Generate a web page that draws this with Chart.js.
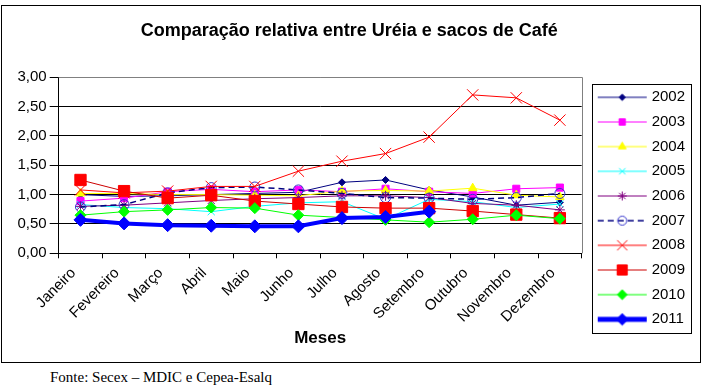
<!DOCTYPE html>
<html><head><meta charset="utf-8">
<script src="https://cdn.jsdelivr.net/npm/chart.js@4/dist/chart.umd.min.js"></script>
<style>
html,body{margin:0;padding:0;background:#fff;width:702px;height:386px;overflow:hidden;}
#wrap{position:relative;width:702px;height:386px;}
#c{position:absolute;left:0;top:0;}
#fonte{position:absolute;left:50px;top:369px;font:15px "Liberation Serif","Times New Roman",serif;line-height:17px;color:#000;white-space:nowrap;}
</style></head><body>
<div id="wrap"><canvas id="c" width="702" height="366"></canvas><div id="fonte">Fonte: Secex – MDIC e Cepea-Esalq</div></div>
<script>
const months = ['Janeiro','Fevereiro','Março','Abril','Maio','Junho','Julho','Agosto','Setembro','Outubro','Novembro','Dezembro'];
const yTickValues = [0, 0.5, 1, 1.5, 2, 2.5, 3];
const yTickLabels = ['0,00','0,50','1,00','1,50','2,00','2,50','3,00'];
const seriesNames = ['2002','2003','2004','2005','2006','2007','2008','2009','2010','2011'];
const s2002 = [1.00, 0.97, 0.98, 1.00, 1.02, 1.04, 1.21, 1.25, 1.08, 0.96, 0.82, 0.87];
const s2003 = [0.89, 0.94, 1.05, 1.09, 1.05, 1.08, 1.05, 1.10, 1.05, 1.02, 1.10, 1.12];
const s2004 = [1.02, 1.02, 1.00, 1.00, 0.99, 0.98, 1.06, 1.07, 1.06, 1.11, 0.99, 0.96];
const s2005 = [0.83, 0.78, 0.76, 0.71, 0.80, 0.86, 0.88, 0.58, 0.92, 0.88, 0.78, 0.84];
const s2006 = [0.80, 0.82, 0.86, 0.90, 0.93, 0.95, 0.98, 0.98, 0.95, 0.85, 0.82, 0.74];
const s2007 = [0.79, 0.83, 1.03, 1.12, 1.13, 1.08, 1.02, 0.95, 0.94, 0.92, 0.95, 1.02];
const s2008 = [1.08, 1.03, 1.06, 1.14, 1.14, 1.40, 1.57, 1.70, 1.98, 2.70, 2.65, 2.27];
const s2009 = [1.25, 1.06, 0.94, 0.99, 0.89, 0.84, 0.79, 0.77, 0.77, 0.72, 0.66, 0.60];
const s2010 = [0.65, 0.71, 0.74, 0.78, 0.77, 0.65, 0.61, 0.57, 0.53, 0.58, 0.65, 0.59];
const s2011 = [0.57, 0.51, 0.48, 0.47, 0.46, 0.46, 0.60, 0.62, 0.71, null, null, null];
const seriesValues = [s2002, s2003, s2004, s2005, s2006, s2007, s2008, s2009, s2010, s2011];

const FONT = '"Liberation Sans", Arial, sans-serif';
const styles = [
  {line:'#000080', point:'#000080', fill:'#000080', ps:'rectRot', r:3.5, w:1},
  {line:'#FF00FF', point:'#FF00FF', fill:'#FF00FF', ps:'rect', r:5, w:1},
  {line:'#FFFF00', point:'#FFFF00', fill:'#FFFF00', ps:'triangle', r:5, w:1},
  {line:'#00FFFF', point:'#00FFFF', fill:'#00FFFF', ps:'crossRot', r:5, w:1},
  {line:'#800080', point:'#800080', fill:'#800080', ps:'star', r:5, w:1},
  {line:'#000080', point:'#3333CC', fill:'rgba(255,255,255,0)', ps:'circle', r:5, w:1.5, dash:[6,4]},
  {line:'#FF0000', point:'#FF0000', fill:'#FF0000', ps:'crossRot', r:8, w:1},
  {line:'#CC0000', point:'#FF0000', fill:'#FF0000', ps:'rect', r:8, w:1},
  {line:'#00FF00', point:'#00FF00', fill:'#00FF00', ps:'rectRot', r:5.5, w:1},
  {line:'#0000FF', point:'#0000FF', fill:'#0000FF', ps:'rectRot', r:6.5, w:4}
];

function makeIcon(st) {
  const cv = document.createElement('canvas');
  cv.width = 60; cv.height = 20;
  const c = cv.getContext('2d');
  c.strokeStyle = st.line; c.lineWidth = st.w === 4 ? 5 : st.w;
  if (st.dash) c.setLineDash(st.dash);
  c.beginPath(); c.moveTo(10, 10); c.lineTo(59, 10); c.stroke();
  c.setLineDash([]);
  if (Chart.helpers && Chart.helpers.drawPoint) {
    c.fillStyle = st.fill; c.strokeStyle = st.point; c.lineWidth = 1;
    Chart.helpers.drawPoint(c, {pointStyle: st.ps, radius: st.r * 0.9, borderWidth: 1, rotation: 0}, 34.5, 10);
  }
  return cv;
}
const icons = styles.map(makeIcon);

const datasets = seriesNames.map((name, i) => ({
  label: name,
  data: seriesValues[i],
  borderColor: styles[i].line,
  borderWidth: styles[i].w,
  borderDash: styles[i].dash || [],
  pointStyle: styles[i].ps,
  pointRadius: styles[i].r,
  pointHoverRadius: styles[i].r,
  pointBackgroundColor: styles[i].fill,
  pointBorderColor: styles[i].point,
  pointBorderWidth: 1,
  fill: false,
  tension: 0,
  spanGaps: false,
  order: seriesNames.length - i
}));

const frame = {
  id: 'frame',
  beforeDatasetsDraw(chart) {
    const {ctx, chartArea: a} = chart;
    ctx.save();
    ctx.strokeStyle = '#808080'; ctx.lineWidth = 1;
    ctx.beginPath();
    ctx.moveTo(a.left, Math.round(a.top) + 0.5); ctx.lineTo(Math.round(a.right) + 0.5, Math.round(a.top) + 0.5);
    ctx.lineTo(Math.round(a.right) + 0.5, a.bottom);
    ctx.stroke();
    ctx.restore();
  },
  afterDraw(chart) {
    const {ctx} = chart;
    ctx.save();
    ctx.strokeStyle = '#000'; ctx.lineWidth = 1;
    ctx.strokeRect(1.5, 5.5, 699, 357);
    const lg = chart.legend;
    if (lg && lg.legendHitBoxes && lg.legendHitBoxes.length) {
      const hb = lg.legendHitBoxes;
      const top = hb[0].top - 6;
      const bottom = hb[hb.length - 1].top + 15 + 6;
      const left = hb[0].left + 1;
      const right = lg.right - 4;
      ctx.strokeRect(Math.round(left) + 0.5, Math.round(top) + 0.5, Math.round(right - left), Math.round(bottom - top));
    }
    ctx.restore();
  }
};

new Chart(document.getElementById('c'), {
  type: 'line',
  data: { labels: months, datasets },
  options: {
    responsive: false,
    animation: false,
    devicePixelRatio: 1,
    layout: { padding: { left: 3.5, right: 7, top: 6, bottom: 17.5 } },
    plugins: {
      tooltip: { enabled: false },
      title: {
        display: true,
        text: 'Comparação relativa entre Uréia e sacos de Café',
        color: '#000',
        font: { family: FONT, size: 18, weight: 'bold' },
        padding: { top: 14, bottom: 35.7 }
      },
      legend: {
        display: true,
        position: 'right',
        align: 'center',
        title: { display: true, text: ' ', font: { size: 12 }, padding: { top: 47.7, bottom: 0 } },
        labels: {
          usePointStyle: true,
          pointStyleWidth: 52.8,
          padding: 9.67,
          color: '#000',
          font: { family: FONT, size: 15 },
          sort: (a, b) => a.datasetIndex - b.datasetIndex,
          generateLabels(chart) {
            const items = Chart.defaults.plugins.legend.labels.generateLabels(chart);
            items.forEach(it => { it.pointStyle = icons[it.datasetIndex]; });
            return items;
          }
        }
      }
    },
    scales: {
      x: {
        type: 'category',
        offset: true,
        afterFit(scale) { scale.height = 95.2; },
        grid: { offset: true, drawOnChartArea: false, drawTicks: true, tickLength: 5, color: '#000' },
        border: { color: '#000', width: 1 },
        ticks: { autoSkip: false, minRotation: 45, maxRotation: 45, labelOffset: -7, color: '#000', padding: 6, font: { family: FONT, size: 15 } },
        title: { display: true, text: 'Meses', color: '#000', font: { family: FONT, size: 17, weight: 'bold' }, padding: { top: 0, bottom: 0 } }
      },
      y: {
        min: 0, max: 3,
        afterFit(scale) { scale.width = 55.2; },
        afterBuildTicks(scale) { scale.ticks = yTickValues.map(v => ({ value: v })); },
        grid: { color: ctx => (ctx.tick && ctx.tick.value === 3 ? '#808080' : '#000'), tickLength: 9, tickColor: '#000', lineWidth: 1 },
        border: { color: '#000', width: 1 },
        ticks: {
          color: '#000', padding: 3, font: { family: FONT, size: 15 },
          callback: (v) => { const k = yTickValues.indexOf(v); return k >= 0 ? yTickLabels[k] : ''; }
        }
      }
    }
  },
  plugins: [frame]
});
</script>
</body></html>
